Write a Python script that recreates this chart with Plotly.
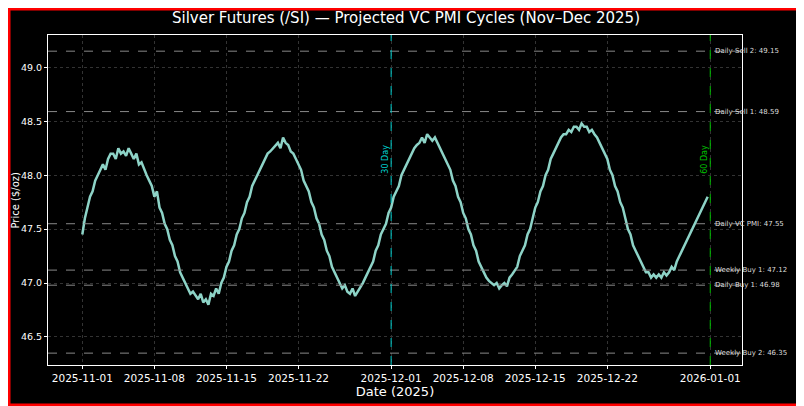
import pandas as pd
import plotly.graph_objects as go

# 6-hourly projected price, Nov 1 - Dec 31 2025
prices = [
    47.45, 47.6, 47.7, 47.8, 47.85, 47.95, 48.0, 48.05, 48.1, 48.05, 48.15, 48.2,
    48.2, 48.15, 48.25, 48.2, 48.22, 48.18, 48.25, 48.2, 48.15, 48.2, 48.1, 48.12,
    48.05, 48.0, 47.95, 47.9, 47.8, 47.85, 47.7, 47.65, 47.55, 47.5, 47.4, 47.35,
    47.25, 47.2, 47.1, 47.05, 47.0, 46.95, 46.9, 46.92, 46.88, 46.85, 46.9, 46.82,
    46.85, 46.8, 46.9, 46.88, 46.95, 46.9, 47.0, 47.05, 47.15, 47.2, 47.3, 47.35,
    47.45, 47.5, 47.6, 47.65, 47.75, 47.8, 47.9, 47.95, 48.0, 48.05, 48.1, 48.15,
    48.2, 48.22, 48.25, 48.28, 48.3, 48.25, 48.35, 48.3, 48.28, 48.22, 48.2, 48.15,
    48.1, 48.05, 47.95, 47.9, 47.85, 47.75, 47.7, 47.6, 47.55, 47.45, 47.4, 47.3,
    47.25, 47.15, 47.1, 47.05, 47.0, 46.95, 46.98, 46.92, 46.9, 46.95, 46.88, 46.92,
    46.95, 47.0, 47.05, 47.1, 47.15, 47.2, 47.3, 47.35, 47.45, 47.5, 47.55, 47.65,
    47.7, 47.8, 47.85, 47.9, 48.0, 48.05, 48.1, 48.15, 48.2, 48.25, 48.28, 48.3,
    48.35, 48.3, 48.38, 48.35, 48.32, 48.35, 48.3, 48.25, 48.2, 48.15, 48.1, 48.05,
    47.95, 47.9, 47.8, 47.75, 47.65, 47.6, 47.5, 47.45, 47.35, 47.3, 47.2, 47.15,
    47.1, 47.05, 47.02, 47.0, 46.98, 47.0, 46.95, 46.98, 47.0, 46.97, 47.05, 47.08,
    47.12, 47.15, 47.25, 47.3, 47.35, 47.45, 47.5, 47.6, 47.7, 47.75, 47.85, 47.9,
    48.0, 48.05, 48.15, 48.2, 48.25, 48.3, 48.35, 48.38, 48.38, 48.42, 48.4, 48.45,
    48.45, 48.42, 48.48, 48.45, 48.45, 48.4, 48.42, 48.38, 48.35, 48.3, 48.25, 48.2,
    48.15, 48.05, 48.0, 47.9, 47.85, 47.75, 47.7, 47.6, 47.5, 47.45, 47.35, 47.3,
    47.25, 47.2, 47.15, 47.1, 47.1, 47.05, 47.08, 47.05, 47.08, 47.05, 47.1, 47.07,
    47.1, 47.15, 47.12, 47.2, 47.25, 47.3, 47.35, 47.4, 47.45, 47.5, 47.55, 47.6,
    47.65, 47.7, 47.75, 47.8,
]
dates = pd.date_range("2025-11-01", periods=len(prices), freq="6h")

level_names = ["Daily Sell 2", "Daily Sell 1", "Daily VC PMI", "Weekly Buy 1", "Daily Buy 1", "Weekly Buy 2"]
level_values = [49.15, 48.59, 47.55, 47.12, 46.98, 46.35]

cycle_labels = ["30 Day", "60 Day"]
cycle_dates = ["2025-12-01", "2026-01-01"]
cycle_colors = ["#00d0d0", "#00c000"]

tick_dates = ["2025-11-01", "2025-11-08", "2025-11-15", "2025-11-22", "2025-12-01",
              "2025-12-08", "2025-12-15", "2025-12-22", "2026-01-01"]

fig = go.Figure()
fig.add_trace(go.Scatter(x=dates, y=prices, mode="lines",
                         line=dict(color="#8dd3c7", width=2.5), showlegend=False))

for name, val in zip(level_names, level_values):
    fig.add_hline(y=val, line=dict(color="#888888", width=1, dash="dash"))
    fig.add_annotation(x="2026-01-01 06:00", y=val, text=f"{name}: {val:.2f}",
                       showarrow=False, xanchor="left", yanchor="middle",
                       font=dict(size=7, color="#dddddd"))

for lab, d, c in zip(cycle_labels, cycle_dates, cycle_colors):
    fig.add_vline(x=d, line=dict(color=c, width=1, dash="dash"))
    fig.add_annotation(x=d, y=48.15, text=lab, textangle=-90, showarrow=False,
                       xanchor="right", font=dict(size=8, color=c))

pw, ph = 694, 330
# y axis title placed by hand, left of the tick labels
fig.add_annotation(xref="paper", yref="paper", x=-41 / pw, y=0.5, text="Price ($/oz)",
                   textangle=-90, showarrow=False, xanchor="left", font=dict(size=10))

# red frame around the whole figure
fig.add_shape(type="rect", xref="paper", yref="paper",
              x0=-40 / pw, x1=1 + 62 / pw, y0=-41 / ph, y1=1 + 27 / ph,
              line=dict(color="red", width=5))

axis_common = dict(showline=True, linecolor="white", mirror=True, ticks="outside",
                   tickcolor="white", showgrid=True, gridcolor="#333333",
                   griddash="dot", zeroline=False, color="white", automargin=False,
                   ticklen=3)
fig.update_layout(
    width=796, height=398,
    paper_bgcolor="black", plot_bgcolor="black",
    font=dict(family="DejaVu Sans", color="white", size=11),
    title=dict(text="Silver Futures (/SI) — Projected VC PMI Cycles (Nov–Dec 2025)",
               x=0.5, xanchor="center", y=0.975, yanchor="middle", font=dict(size=15)),
    margin=dict(l=40, r=62, t=27, b=41),
    xaxis=dict(range=["2025-10-28 16:00", "2026-01-04 02:00"], tickvals=tick_dates,
               ticktext=tick_dates, tickfont=dict(size=10.5),
               title=dict(text="Date (2025)", standoff=2), **axis_common),
    yaxis=dict(range=[46.24, 49.30], dtick=0.5, tickformat=".1f", ticklabelstandoff=0,
               tickfont=dict(size=9.5), **axis_common),
)

fig.write_html("out.html")
